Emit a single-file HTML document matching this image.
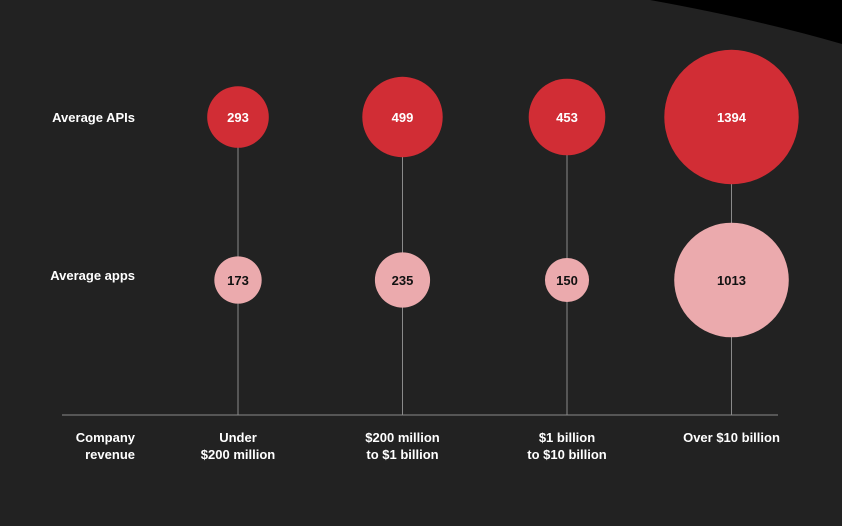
<!DOCTYPE html>
<html><head><meta charset="utf-8"><style>
html,body{margin:0;padding:0;background:#222222;}
svg{display:block;font-family:"Liberation Sans",sans-serif;}
</style></head><body>
<svg id="chart" width="842" height="526" viewBox="0 0 842 526" xmlns="http://www.w3.org/2000/svg">
<rect width="842" height="526" fill="#222222"/>
<path d="M650 0 Q760 20 842 44 L842 0 Z" fill="#000"/>
<line x1="62" y1="415" x2="778" y2="415" stroke="#8a8a8a" stroke-width="1"/>
<text x="135" y="122" text-anchor="end" fill="#fff" font-size="13" font-weight="bold">Average APIs</text>
<text x="135" y="280" text-anchor="end" fill="#fff" font-size="13" font-weight="bold">Average apps</text>
<text x="135" y="442" text-anchor="end" fill="#fff" font-size="13" font-weight="bold">Company</text>
<text x="135" y="459" text-anchor="end" fill="#fff" font-size="13" font-weight="bold">revenue</text>
<g id="marks"></g>
</svg>
<script>
const categories = [["Under","$200 million"],["$200 million","to $1 billion"],["$1 billion","to $10 billion"],["Over $10 billion"]];
const apis = [293, 499, 453, 1394];
const apps = [173, 235, 150, 1013];
const NS = "http://www.w3.org/2000/svg";
const g = document.getElementById('marks');
const xPos = i => 238 + i * 164.5;
const rScale = v => 1.8 * Math.sqrt(v);
const yApi = 117, yApp = 280;
function mk(tag, attrs){const e=document.createElementNS(NS,tag);for(const k in attrs)e.setAttribute(k,attrs[k]);g.appendChild(e);return e;}
categories.forEach((c,i)=>{
  const x = xPos(i);
  const stem = mk('line',{x1:x,y1:yApi,x2:x,y2:415,stroke:'#8a8a8a','stroke-width':1});
  
  
});
categories.forEach((c,i)=>{
  const x = xPos(i);
  const a = mk('circle',{cx:x,cy:yApi,r:rScale(apis[i]),fill:'#d12d35'});
  
  
  const at = mk('text',{x:x,y:yApi+5,'text-anchor':'middle',fill:'#fff','font-size':13,'font-weight':'bold'});
  at.textContent = apis[i];
  
  
  const p = mk('circle',{cx:x,cy:yApp,r:rScale(apps[i]),fill:'#ebaaad'});
  
  
  const pt = mk('text',{x:x,y:yApp+5,'text-anchor':'middle',fill:'#111','font-size':13,'font-weight':'bold'});
  pt.textContent = apps[i];
  
  
  c.forEach((line,j)=>{
    const t = mk('text',{x:x,y:442+j*17,'text-anchor':'middle',fill:'#fff','font-size':13,'font-weight':'bold'});
    t.textContent = line;
    
    
  });
});
</script>
</body></html>
